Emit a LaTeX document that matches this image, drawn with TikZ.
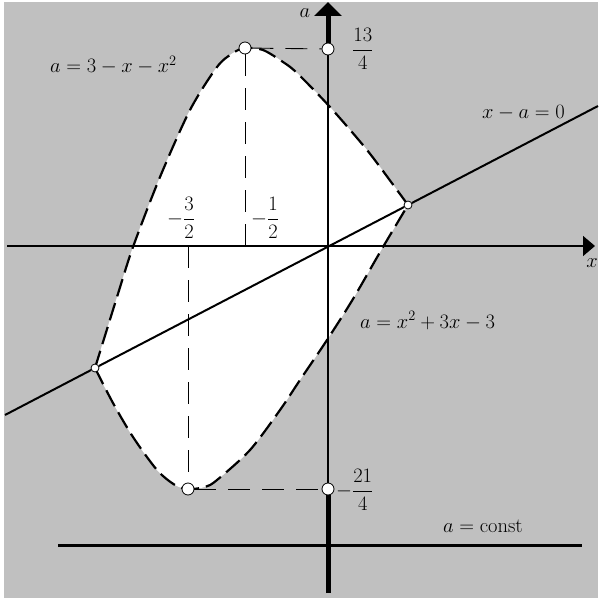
\RequirePackage{fix-cm}
\documentclass[tikz,border=0pt]{standalone}
\usetikzlibrary{arrows.meta}
\definecolor{bggray}{HTML}{C0C0C0}
\pgfdeclarelayer{fg}
\pgfsetlayers{main,fg}
\begin{document}
\begin{tikzpicture}[x=1pt,y=-1pt,
  lbl/.style={font=\fontsize{20.5}{24}\selectfont, inner sep=0pt},
  curve/.style={line width=2.2pt, dash pattern=on 18pt off 7pt},
  helper/.style={line width=0.9pt, dash pattern=on 22pt off 12pt},
  bigdot/.style={circle, draw, fill=white, line width=0.8pt, minimum size=12pt, inner sep=0pt},
  smalldot/.style={circle, draw, fill=white, line width=0.8pt, minimum size=8pt, inner sep=0pt}]
\useasboundingbox (0,0) rectangle (598,599);
\fill[bggray] (4,2) rectangle (598,598);
% region between the parabolas
\fill[white] plot[smooth] coordinates {(95,368) (117,297) (133,247) (160,177) (190,110) (217,67) (233,53) (245,48) (263,50) (283,62) (297,73) (330,107) (367,150) (397,190) (408,205)}
  -- plot[smooth] coordinates {(408,205) (383,247) (353,299) (327,340) (300,380) (280,410) (250,450) (217,480) (205,487) (188,489) (175,485) (157,470) (133,437) (113,403) (95,368)} -- cycle;
% marked points
\begin{pgfonlayer}{fg}
\node[bigdot] (tv) at (245,48) {};
\node[bigdot] (ta) at (328,49) {};
\node[bigdot] (bv) at (188,489) {};
\node[bigdot] (ba) at (328,489) {};
\node[smalldot] (p1) at (408,205) {};
\node[smalldot] (p2) at (95,368) {};
\end{pgfonlayer}
\coordinate (xl) at (7,246);
\coordinate (xr) at (595,246);
\coordinate (atop) at (328,2);
\coordinate (abot) at (328,593);
\coordinate (lL) at (5,415);
\coordinate (lR) at (598,106);
\coordinate (tvx) at (245,250);
\coordinate (bvx) at (188,246);
\coordinate (cL) at (58,545);
\coordinate (cR) at (582,545);
% helper dashed lines
\draw[helper] (tv) -- (tvx);
\draw[helper] (bvx) -- (bv);
\draw[helper] (tv) -- (ta);
\draw[helper] (bv) -- (ba);
% axes
\draw[line width=1.5pt, -{Triangle[width=20pt,length=12pt]}] (xl) -- (xr);
\draw[line width=1.2pt] (ba) -- (ta);
\draw[line width=5pt, -{Triangle[width=27pt,length=14pt]}] (ta) -- (atop);
\draw[line width=5pt] (abot) -- (ba);
% line x - a = 0
\draw[line width=2pt] (lL) -- (p2) -- (p1) -- (lR);
% a = const
\draw[line width=3pt] (cL) -- (cR);
% parabolas
\draw[curve] plot[smooth] coordinates {(95,368) (117,297) (133,247) (160,177) (190,110) (217,67) (233,53) (245,48) (263,50) (283,62) (297,73) (330,107) (367,150) (397,190) (408,205)};
\draw[curve] plot[smooth] coordinates {(95,368) (113,403) (133,437) (157,470) (175,485) (188,489) (205,487) (217,480) (250,450) (280,410) (300,380) (327,340) (353,299) (383,247) (408,205)};
% labels
\node[lbl] (la) at (305,13) {$a$};
\node[lbl] (lx) at (592,263) {$x$};
\node[lbl, anchor=west] (l134) at (352,49) {$\displaystyle\frac{13}{4}$};
\node[lbl, anchor=west] (l214) at (336,490) {$\displaystyle-\frac{21}{4}$};
\node[lbl, anchor=west] (l32) at (167,218) {$\displaystyle-\frac{3}{2}$};
\node[lbl, anchor=west] (l12) at (251,218) {$\displaystyle-\frac{1}{2}$};
\node[lbl, anchor=base west] (lup) at (50,73) {$a=3-x-x^2$};
\node[lbl, anchor=base west] (lline) at (482,118) {$x-a=0$};
\node[lbl, anchor=base west] (llow) at (360,328) {$a=x^2+3x-3$};
\node[lbl, anchor=base west] (lconst) at (443,532) {$a=\mathrm{const}$};
\end{tikzpicture}
\end{document}
